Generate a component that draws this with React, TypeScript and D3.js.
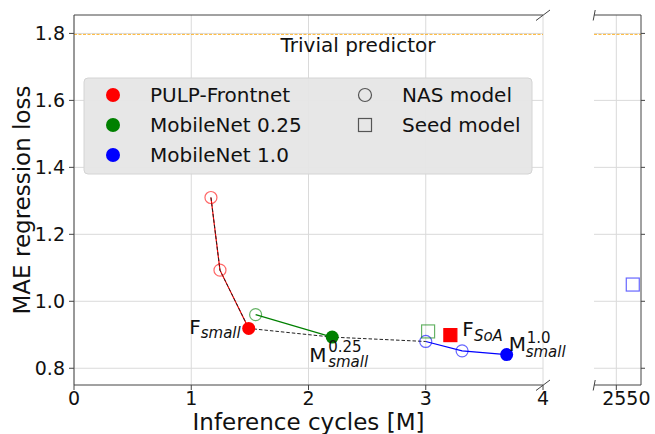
import React from "react";
import { scaleLinear } from "d3";

// data
const pulpNasX = [1.168, 1.245];
const pulpNasY = [1.31, 1.093];
const pulpSmall = { x: 1.49, y: 0.919 };
const pulpSoA = { x: 3.21, y: 0.899 };

const mb025NasX = [1.549];
const mb025NasY = [0.96];
const mb025Small = { x: 2.202, y: 0.893 };
const mb025Seed = { x: 3.02, y: 0.91 };

const mb10NasX = [3.0, 3.31];
const mb10NasY = [0.88, 0.852];
const mb10Small = { x: 3.69, y: 0.841 };
const mb10Seed = { x: 2550.14, y: 1.05 };

const paretoX = [1.168, 1.245, 1.49, 2.202, 3.0];
const paretoY = [1.31, 1.093, 0.919, 0.893, 0.88];

const trivialLoss = 1.797;

const xTicksMain = [0, 1, 2, 3, 4];
const xTicksRight = [2550];
const yTicks = [0.8, 1.0, 1.2, 1.4, 1.6, 1.8];

const legendLeft = [
    { label: "PULP-Frontnet", color: "red" },
    { label: "MobileNet 0.25", color: "green" },
    { label: "MobileNet 1.0", color: "blue" }
];
const legendRight = [
    { label: "NAS model", shape: "circle" },
    { label: "Seed model", shape: "square" }
];

const W = 655, H = 434;
const font = "DejaVu Sans, sans-serif";
const spine = "#444";
const grid = "#dadada";

const x = scaleLinear().domain([0, 4]).range([74, 543]);
const x2 = scaleLinear().domain([2549.81, 2550.21]).range([594, 641]);
const y = scaleLinear().domain([0.75, 1.855]).range([385, 15]);

const top = y.range()[1], bottom = y.range()[0];

function linePath(xs, ys, sx) {
    return xs.map((v, i) => (i ? "L" : "M") + sx(v) + "," + y(ys[i])).join("");
}

function OpenCircle({ cx, cy, color }) {
    return <circle cx={cx} cy={cy} r={6} fill="none" stroke={color} strokeOpacity={0.6} strokeWidth={1.2} />;
}

function Square({ cx, cy, color, filled }) {
    return <rect x={cx - 6.5} y={cy - 6.5} width={13} height={13}
        fill={filled ? color : "none"} stroke={color} strokeOpacity={filled ? 1 : 0.6} strokeWidth={1.2} />;
}

export default function App() {
    return (
        <svg width={W} height={H} style={{ display: "block", position: "absolute", left: 0, top: 0 }} fontFamily={font}>
            <rect width={W} height={H} fill="white" />
            {/* grid main */}
            {xTicksMain.map(t => <line key={"gx" + t} x1={x(t)} x2={x(t)} y1={top} y2={bottom} stroke={grid} />)}
            {yTicks.map(t => <line key={"gy" + t} x1={x.range()[0]} x2={x.range()[1]} y1={y(t)} y2={y(t)} stroke={grid} />)}
            {/* grid right */}
            {xTicksRight.map(t => <line key={"gx2" + t} x1={x2(t)} x2={x2(t)} y1={top} y2={bottom} stroke={grid} />)}
            {yTicks.map(t => <line key={"gy2" + t} x1={x2.range()[0]} x2={x2.range()[1]} y1={y(t)} y2={y(t)} stroke={grid} />)}

            {/* trivial predictor */}
            <line x1={x.range()[0]} x2={x.range()[1]} y1={y(trivialLoss)} y2={y(trivialLoss)} stroke="orange" strokeOpacity={0.8} strokeDasharray="3,1.5" strokeWidth={1} />
            <line x1={x2.range()[0]} x2={x2.range()[1]} y1={y(trivialLoss)} y2={y(trivialLoss)} stroke="orange" strokeOpacity={0.8} strokeDasharray="3,1.5" strokeWidth={1} />
            <text x={358} y={52} fontSize={20} textAnchor="middle" fill="#111">Trivial predictor</text>

            {/* legend */}
            <rect x={84} y={78} width={448} height={96} rx={4} fill="#e6e6e6" fillOpacity={0.95} stroke="#d4d4d4" />
            {legendLeft.map((d, i) => (
                <g key={d.label}>
                    <circle cx={113} cy={95 + i * 30} r={7} fill={d.color} />
                    <text x={150} y={102 + i * 30} fontSize={20} fill="#111">{d.label}</text>
                </g>
            ))}
            {legendRight.map((d, i) => (
                <g key={d.label}>
                    {d.shape === "circle"
                        ? <circle cx={365} cy={95 + i * 30} r={6.5} fill="none" stroke="#555" strokeWidth={1.2} />
                        : <rect x={358.5} y={88.5 + i * 30} width={13} height={13} fill="none" stroke="#555" strokeWidth={1.2} />}
                    <text x={402} y={102 + i * 30} fontSize={20} fill="#111">{d.label}</text>
                </g>
            ))}

            {/* lines */}
            <path d={linePath([...pulpNasX, pulpSmall.x], [...pulpNasY, pulpSmall.y], x)} fill="none" stroke="red" strokeWidth={1.2} />
            <path d={linePath([...mb025NasX, mb025Small.x], [...mb025NasY, mb025Small.y], x)} fill="none" stroke="green" strokeWidth={1.2} />
            <path d={linePath([...mb10NasX, mb10Small.x], [...mb10NasY, mb10Small.y], x)} fill="none" stroke="blue" strokeWidth={1.2} />
            <path d={linePath(paretoX, paretoY, x)} fill="none" stroke="#222" strokeWidth={1} strokeDasharray="3.5,2" />

            {/* NAS models */}
            {pulpNasX.map((v, i) => <OpenCircle key={"pn" + i} cx={x(v)} cy={y(pulpNasY[i])} color="red" />)}
            {mb025NasX.map((v, i) => <OpenCircle key={"gn" + i} cx={x(v)} cy={y(mb025NasY[i])} color="green" />)}
            {mb10NasX.map((v, i) => <OpenCircle key={"bn" + i} cx={x(v)} cy={y(mb10NasY[i])} color="blue" />)}

            {/* seed models */}
            <Square cx={x(mb025Seed.x)} cy={y(mb025Seed.y)} color="green" />
            <Square cx={x(pulpSoA.x)} cy={y(pulpSoA.y)} color="red" filled />
            <Square cx={x2(mb10Seed.x)} cy={y(mb10Seed.y)} color="blue" />

            {/* small models */}
            <circle cx={x(pulpSmall.x)} cy={y(pulpSmall.y)} r={6.5} fill="red" />
            <circle cx={x(mb025Small.x)} cy={y(mb025Small.y)} r={6.5} fill="green" />
            <circle cx={x(mb10Small.x)} cy={y(mb10Small.y)} r={6.5} fill="blue" />

            {/* annotations */}
            <text x={x(pulpSmall.x) - 8} y={y(pulpSmall.y) + 6} fontSize={20} textAnchor="end" fill="#111">
                F<tspan fontSize={15} fontStyle="italic" dy={4}>small</tspan>
            </text>
            <text x={x(mb025Small.x) - 23} y={y(mb025Small.y) + 25} fontSize={20} fill="#111">M</text>
            <text x={x(mb025Small.x) - 4} y={y(mb025Small.y) + 15} fontSize={15} fill="#111">0.25</text>
            <text x={x(mb025Small.x) - 4} y={y(mb025Small.y) + 30} fontSize={15} fontStyle="italic" fill="#111">small</text>
            <text x={x(pulpSoA.x) + 12} y={y(pulpSoA.y) + 1} fontSize={20} fill="#111">
                F<tspan fontSize={15} fontStyle="italic" dy={5}>SoA</tspan>
            </text>
            <text x={x(mb10Small.x) + 2} y={y(mb10Small.y) - 4} fontSize={20} fill="#111">M</text>
            <text x={x(mb10Small.x) + 20} y={y(mb10Small.y) - 12} fontSize={15} fill="#111">1.0</text>
            <text x={x(mb10Small.x) + 19} y={y(mb10Small.y) + 2} fontSize={15} fontStyle="italic" fill="#111">small</text>

            {/* spines main */}
            <line x1={x.range()[0]} x2={x.range()[0]} y1={top} y2={bottom} stroke={spine} />
            <line x1={x.range()[0]} x2={x.range()[1]} y1={top} y2={top} stroke={spine} />
            <line x1={x.range()[0]} x2={x.range()[1]} y1={bottom} y2={bottom} stroke={spine} />
            {/* spines right */}
            <line x1={x2.range()[0]} x2={x2.range()[1]} y1={top} y2={top} stroke={spine} />
            <line x1={x2.range()[0]} x2={x2.range()[1]} y1={bottom} y2={bottom} stroke={spine} />
            <line x1={x2.range()[1]} x2={x2.range()[1]} y1={top} y2={bottom} stroke={spine} />

            {/* break marks */}
            {[top, bottom].map(v => (
                <g key={"brk" + v} stroke={spine} strokeWidth={1}>
                    <line x1={x.range()[1] - 7} y1={v + 5.5} x2={x.range()[1] + 7} y2={v - 5} />
                    <line x1={x2.range()[0] - 0.8} y1={v + 5.5} x2={x2.range()[0] + 1.2} y2={v - 5} />
                </g>
            ))}

            {/* y ticks */}
            {yTicks.map(t => (
                <g key={"yt" + t}>
                    <line x1={x.range()[0] - 5} x2={x.range()[0]} y1={y(t)} y2={y(t)} stroke={spine} />
                    <line x1={x2.range()[1]} x2={x2.range()[1] + 4} y1={y(t)} y2={y(t)} stroke={spine} />
                    <text x={x.range()[0] - 9} y={y(t) + 6.5} fontSize={19} textAnchor="end" fill="#111">{t.toFixed(1)}</text>
                </g>
            ))}
            {/* x ticks */}
            {xTicksMain.map(t => (
                <g key={"xt" + t}>
                    <line x1={x(t)} x2={x(t)} y1={bottom} y2={bottom + 5} stroke={spine} />
                    <text x={x(t)} y={405} fontSize={19} textAnchor="middle" fill="#111">{t}</text>
                </g>
            ))}
            {xTicksRight.map(t => (
                <g key={"xt2" + t}>
                    <line x1={x2(t)} x2={x2(t)} y1={bottom} y2={bottom + 5} stroke={spine} />
                    <text x={x2(t) + 10} y={405} fontSize={19} textAnchor="middle" fill="#111">{t}</text>
                </g>
            ))}

            {/* axis labels */}
            <text x={(x.range()[0] + x.range()[1]) / 2} y={430} fontSize={23} textAnchor="middle" fill="#111">Inference cycles [M]</text>
            <text transform={`translate(30,${(top + bottom) / 2}) rotate(-90)`} fontSize={23} textAnchor="middle" fill="#111">MAE regression loss</text>
        </svg>
    );
}
